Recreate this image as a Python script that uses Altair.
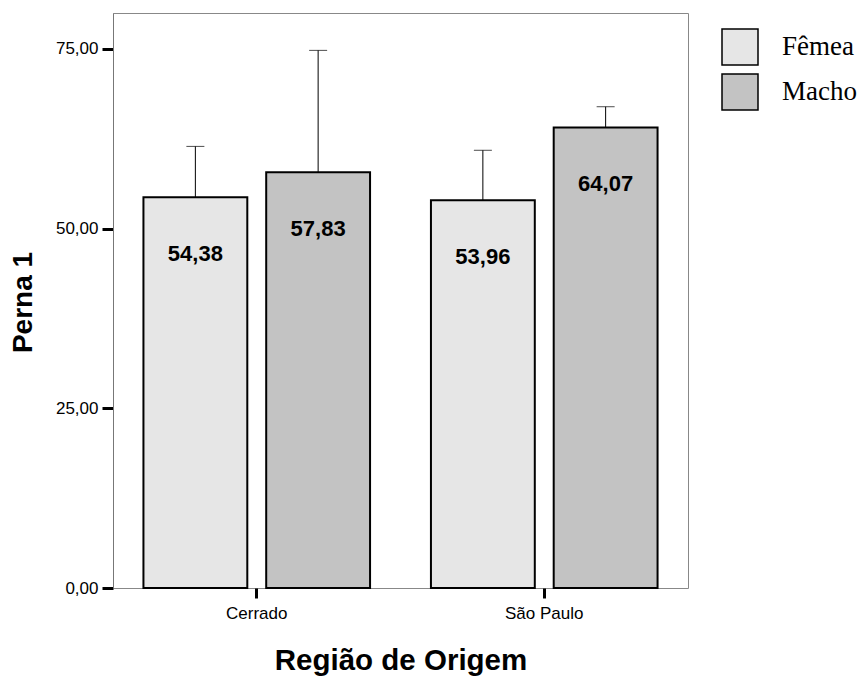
import altair as alt
import pandas as pd

regions = ["Cerrado", "Cerrado", "São Paulo", "São Paulo"]
sexes = ["Fêmea", "Macho", "Fêmea", "Macho"]
means = [54.38, 57.83, 53.96, 64.07]
uppers = [61.44, 74.8, 60.9, 66.96]
y_ticks = [0, 25, 50, 75]

df = pd.DataFrame({"regiao": regions, "sexo": sexes, "media": means, "sup": uppers})
df["label"] = df["media"].map(lambda v: f"{v:.2f}".replace(".", ","))

x = alt.X("regiao:N", title="Região de Origem",
          scale=alt.Scale(paddingInner=0, paddingOuter=0),
          axis=alt.Axis(labelAngle=0, labelFont="Liberation Sans", labelFontSize=17,
                        labelColor="black", labelPadding=7,
                        tickColor="black", tickWidth=3, tickSize=10,
                        domain=False,
                        titleFont="Liberation Sans", titleFontSize=29.5, titleFontWeight="bold",
                        titleColor="black", titleX=287.5, titleY=72, titleBaseline="middle"))
xoff = alt.XOffset("sexo:N", scale=alt.Scale(paddingInner=0.154, paddingOuter=0.248))
y = alt.Y("media:Q", title="Perna 1",
          scale=alt.Scale(domain=[0, 80], nice=False),
          axis=alt.Axis(values=y_ticks,
                        labelExpr="replace(format(datum.value, '.2f'), '.', ',')",
                        labelFont="Liberation Sans", labelFontSize=17, labelColor="black",
                        labelPadding=4,
                        tickColor="black", tickWidth=3, tickSize=11,
                        domainColor="#777777", domainWidth=1,
                        grid=False,
                        titleFont="Liberation Sans", titleFontSize=28, titleFontWeight="bold",
                        titleColor="black", titleAngle=270, titleX=-90, titleY=289,
                        titleAlign="center", titleBaseline="middle"))

color = alt.Color("sexo:N",
                  scale=alt.Scale(domain=["Fêmea", "Macho"], range=["#e6e6e6", "#c3c3c3"]),
                  legend=alt.Legend(title=None, orient="none", legendX=608, legendY=15,
                                    symbolType="square", symbolSize=1296,
                                    symbolStrokeColor="black", symbolStrokeWidth=1.5,
                                    symbolOpacity=1,
                                    labelFont="Liberation Serif", labelFontSize=27,
                                    labelColor="black", labelOffset=23,
                                    rowPadding=3, padding=0))

base = alt.Chart(df)

err = base.mark_rule(color="black", strokeWidth=1).encode(
    x=x, xOffset=xoff, y="media:Q", y2="sup:Q")
cap = base.mark_tick(color="black", thickness=1, size=18).encode(
    x=x, xOffset=xoff, y="sup:Q")
bars = base.mark_bar(stroke="black", strokeWidth=2, opacity=1).encode(
    x=x, xOffset=xoff, y=y, color=color)
text = base.mark_text(font="Liberation Sans", fontSize=22, fontWeight="bold",
                      color="black", dy=57, baseline="middle").encode(
    x=x, xOffset=xoff, y="media:Q", text="label:N")

chart = alt.layer(err, cap, bars, text).properties(
    width=575, height=575,
    padding={"left": 105, "top": 5, "right": 171, "bottom": 90},
    autosize=alt.AutoSizeParams(type="none"),
).configure_view(stroke="#888888", strokeWidth=1)

chart.save("out.html", embed_options={"renderer": "svg", "actions": False})
